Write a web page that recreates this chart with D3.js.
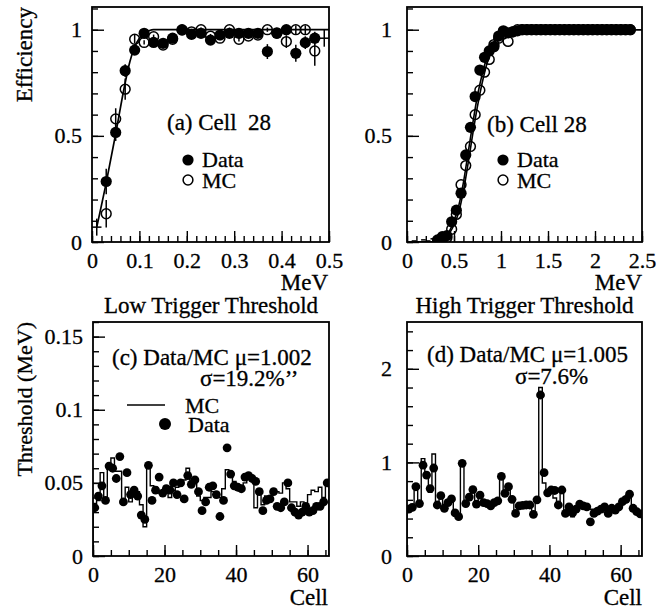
<!DOCTYPE html>
<html>
<head>
<meta charset="utf-8">
<script src="https://cdn.jsdelivr.net/npm/d3@7"></script>
<style>
  body { margin: 0; background: #fff; }
  svg { display: block; }
  text { font-family: "Liberation Serif", "Times New Roman", serif; fill: #000; stroke: #000; stroke-width: 0.3px; }
</style>
</head>
<body>
<svg id="chart" width="670" height="609"></svg>
<script>
// ---- panel (a): low threshold efficiency, cell 28
const aX = [0.03,0.05,0.07,0.09,0.11,0.13,0.15,0.17,0.19,0.21,0.23,0.25,0.27,0.29,0.31,0.33,0.35,0.37,0.39,0.41,0.43,0.45,0.47]
const aData = [0.285,0.516,0.807,0.904,0.983,0.94,0.936,0.96,0.998,0.978,0.983,0.951,0.975,0.983,0.983,0.983,0.983,0.897,0.983,1.0,0.889,0.939,0.96]
const aDataErr = [0.06,0.04,0.03,0.02,0.01,0.01,0.01,0.01,0.01,0.01,0.01,0.01,0.01,0.01,0.01,0.01,0.01,0.035,0.01,0.015,0.04,0.03,0.03]
const aMC = [0.133,0.58,0.72,0.955,0.94,0.967,0.928,0.955,1.0,0.99,1.0,0.97,0.96,1.0,0.955,0.97,0.975,1.0,0.985,0.944,1.0,1.0,0.90]
const aMCErr = [0.065,0.05,0.05,0.02,0.01,0.01,0.01,0.01,0.01,0.01,0.01,0.01,0.01,0.01,0.01,0.01,0.01,0.01,0.01,0.03,0.02,0.02,0.07]
const aCrossX = [0.01, 0.49]
const aCrossY = [0.07, 0.96]
const aFitX = [0.01,0.03,0.05,0.07,0.08,0.09,0.10,0.11,0.12,0.13,0.5]
const aFitY = [0.07,0.28,0.51,0.75,0.85,0.92,0.96,0.985,0.995,1.0,1.0]

// ---- panel (b): high threshold efficiency, cell 28
const bX = [0.325,0.375,0.425,0.475,0.525,0.575,0.625,0.675,0.725,0.775,0.825,0.875,0.925,0.975,1.025,1.075,1.125,
  1.175,1.225,1.275,1.325,1.375,1.425,1.475,1.525,1.575,1.625,1.675,1.725,1.775,1.825,1.875,1.925,1.975,2.025,2.075,2.125,2.175,2.225,2.275,2.325,2.375]
const bData = [0.01,0.025,0.03,0.095,0.15,0.23,0.41,0.54,0.685,0.81,0.87,0.90,0.92,0.97,0.995,0.985,0.99,
  0.995,1,1,1,1,1,1,1,1,1,1,1,1,1,1,1,1,1,1,1,1,1,1,1,1]
const bMC = [0.0,0.01,0.02,0.06,0.13,0.27,0.36,0.45,0.60,0.715,0.80,0.86,0.93,0.96,0.98,0.945,0.99,
  1,1,1,1,1,1,1,1,1,1,1,1,1,1,1,1,1,1,1,1,1,1,1,1,1]
const bLowX = [0.075,0.125,0.175,0.225,0.275]
const bLowY = [0.005,0.0,0.01,0.005,0.015]
const bFitX = [0,0.3,0.4,0.45,0.5,0.55,0.6,0.65,0.7,0.75,0.8,0.85,0.9,0.95,1.0,1.05,1.1,2.5]
const bFitData = [0,0,0.02,0.05,0.10,0.17,0.28,0.42,0.56,0.69,0.79,0.87,0.92,0.96,0.985,0.995,1.0,1.0]
const bFitMC = [0,0,0.01,0.04,0.08,0.14,0.24,0.37,0.51,0.64,0.75,0.84,0.90,0.95,0.98,0.99,1.0,1.0]

// ---- panel (c): low trigger threshold per cell (MeV), cells 0..65
const cData = [0.033,0.041,0.048,0.038,0.0615,0.060,0.053,0.068,0.037,0.057,0.042,0.045,0.041,0.028,0.025,0.062,
  0.038,0.045,0.054,0.043,0.046,0.045,0.050,0.042,0.050,0.039,0.055,0.049,0.052,0.044,0.031,0.037,0.047,0.048,
  0.042,0.027,0.038,0.074,0.056,0.048,0.047,0.046,0.054,0.055,0.053,0.051,0.044,0.031,0.038,0.039,0.044,0.034,
  0.033,0.037,0.050,0.033,0.030,0.028,0.030,0.034,0.030,0.031,0.034,0.034,0.037,0.050]
const cMC = [0.036,0.038,0.057,0.040,0.062,0.067,0.058,0.058,0.036,0.047,0.037,0.044,0.044,0.035,0.020,0.060,
  0.048,0.047,0.043,0.042,0.048,0.040,0.045,0.047,0.048,0.052,0.060,0.052,0.050,0.041,0.038,0.040,0.040,0.044,
  0.040,0.040,0.046,0.059,0.057,0.051,0.047,0.045,0.050,0.055,0.053,0.033,0.046,0.035,0.041,0.037,0.046,0.044,
  0.043,0.050,0.046,0.037,0.037,0.034,0.037,0.033,0.042,0.045,0.044,0.047,0.040,0.050]

// ---- panel (d): high trigger threshold per cell (MeV)
const dData = [0.50,0.52,0.74,0.56,0.97,0.865,0.72,0.94,0.545,0.645,0.51,0.57,0.61,0.46,0.42,0.99,
  0.56,0.63,0.71,0.555,0.65,0.57,0.56,0.535,0.57,0.59,0.85,0.67,0.74,0.605,0.455,0.535,0.54,0.545,
  0.545,0.445,0.60,1.72,0.89,0.675,0.705,0.70,0.545,0.705,0.455,0.525,0.46,0.50,0.555,0.535,0.525,0.365,
  0.455,0.48,0.50,0.525,0.455,0.51,0.49,0.525,0.58,0.605,0.66,0.51,0.475,0.45]
const dMC = [0.52,0.55,0.76,0.58,1.04,0.85,0.68,1.09,0.52,0.62,0.55,0.60,0.62,0.47,0.43,1.00,
  0.57,0.62,0.68,0.58,0.62,0.57,0.56,0.55,0.58,0.60,0.86,0.70,0.72,0.60,0.48,0.53,0.54,0.55,
  0.55,0.47,0.62,1.80,0.78,0.68,0.70,0.62,0.56,0.70,0.47,0.52,0.42,0.50,0.55,0.55,0.53,0.50,
  0.50,0.49,0.49,0.51,0.50,0.50,0.51,0.52,0.56,0.60,0.62,0.53,0.49,0.45]

// tick labels
const effMajor = [0, 0.5, 1]
const aXMajor = [0, 0.1, 0.2, 0.3, 0.4, 0.5]
const bXMajor = [0, 0.5, 1, 1.5, 2, 2.5]
const cellMajor = [0, 20, 40, 60]
const cYMajor = [0, 0.05, 0.1, 0.15]
const dYMajor = [0, 1, 2]

const svg = d3.select("#chart")
const fmt = d => String(d)

const P = {
  a: { x0: 92, x1: 329, y0: 7, y1: 242, pad: 10 },
  b: { x0: 407, x1: 642, y0: 7, y1: 242, pad: 15 },
  c: { x0: 93, x1: 329, y0: 322, y1: 556, pad: 10 },
  d: { x0: 407, x1: 642, y0: 322, y1: 556, pad: 15 }
}

function frame(name, x, y, xMajor, xMinor, yMajor, yMinor) {
  const p = P[name]
  const g = svg.append("g")
  const clipId = "clip-" + name
  svg.append("clipPath").attr("id", clipId)
    .append("rect").attr("x", p.x0).attr("y", p.y0).attr("width", p.x1 - p.x0).attr("height", p.y1 - p.y0)

  const axes = [
    [d3.axisBottom(x).tickValues(xMinor).tickSize(-6).tickFormat(""), `translate(0,${p.y1})`],
    [d3.axisBottom(x).tickValues(xMajor).tickSize(-11).tickPadding(10).tickFormat(fmt), `translate(0,${p.y1})`],
    [d3.axisLeft(y).tickValues(yMinor).tickSize(-6).tickFormat(""), `translate(${p.x0},0)`],
    [d3.axisLeft(y).tickValues(yMajor).tickSize(-12).tickPadding(p.pad).tickFormat(fmt), `translate(${p.x0},0)`]
  ]
  axes.forEach(([ax, tr]) => {
    const a = g.append("g").attr("transform", tr).call(ax)
    a.select(".domain").remove()
    a.selectAll("line").attr("stroke", "#000").attr("stroke-width", 1.4)
    a.selectAll("text").attr("font-size", 22)
  })

  g.append("rect")
    .attr("x", p.x0).attr("y", p.y0)
    .attr("width", p.x1 - p.x0).attr("height", p.y1 - p.y0)
    .attr("fill", "none").attr("stroke", "#000").attr("stroke-width", 1.8)

  const plot = svg.append("g").attr("clip-path", `url(#${clipId})`)
  return plot
}

function text(str, x, y, size, anchor) {
  return svg.append("text")
    .attr("x", x).attr("y", y)
    .attr("font-size", size)
    .attr("text-anchor", anchor || "start")
    .style("white-space", "pre")
    .text(str)
}

function yTitle(str, x, yTop, size) {
  svg.append("text")
    .attr("transform", `translate(${x},${yTop}) rotate(-90)`)
    .attr("text-anchor", "end")
    .attr("font-size", size)
    .text(str)
}

function points(plot, x, y, xs, ys, errs, filled, r) {
  if (errs) {
    plot.selectAll(null).data(xs).enter().append("line")
      .attr("x1", (d) => x(d)).attr("x2", (d) => x(d))
      .attr("y1", (d, i) => y(ys[i] - errs[i])).attr("y2", (d, i) => y(ys[i] + errs[i]))
      .attr("stroke", "#000").attr("stroke-width", 1.5)
  }
  plot.selectAll(null).data(xs).enter().append("circle")
    .attr("cx", (d) => x(d)).attr("cy", (d, i) => y(ys[i]))
    .attr("r", filled ? r : r - 0.7)
    .attr("fill", filled ? "#000" : "none")
    .attr("stroke", "#000").attr("stroke-width", filled ? 0 : 1.5)
}

// ================= (a)
{
  const p = P.a
  const x = d3.scaleLinear().domain([0, 0.5]).range([p.x0, p.x1])
  const y = d3.scaleLinear().domain([0, 1.107]).range([p.y1, p.y0])
  const plot = frame("a", x, y, aXMajor, d3.range(0, 0.5001, 0.02), effMajor, d3.range(0, 1.1001, 0.1))

  plot.append("path")
    .datum(aFitX.map((d, i) => [d, aFitY[i]]))
    .attr("fill", "none").attr("stroke", "#000").attr("stroke-width", 1.7)
    .attr("d", d3.line().x(d => x(d[0])).y(d => y(d[1])).curve(d3.curveMonotoneX))

  aCrossX.forEach((cx, i) => {
    plot.append("line").attr("x1", x(cx - 0.01)).attr("x2", x(cx + 0.01))
      .attr("y1", y(aCrossY[i])).attr("y2", y(aCrossY[i])).attr("stroke", "#000").attr("stroke-width", 1.5)
    plot.append("line").attr("x1", x(cx)).attr("x2", x(cx))
      .attr("y1", y(aCrossY[i] - 0.04)).attr("y2", y(aCrossY[i] + 0.04)).attr("stroke", "#000").attr("stroke-width", 1.5)
  })

  points(plot, x, y, aX, aData, aDataErr, true, 5.6)
  points(plot, x, y, aX, aMC, aMCErr, false, 5.6)

  yTitle("Efficiency", 32, p.y0, 23)
  text("MeV", p.x1 - 1, 290, 23, "end")
  text("(a) Cell  28", 167, 130, 23)
  svg.append("circle").attr("cx", 188).attr("cy", 160).attr("r", 5.6).attr("fill", "#000")
  text("Data", 202, 167, 22)
  svg.append("circle").attr("cx", 188).attr("cy", 180).attr("r", 4.9).attr("fill", "none").attr("stroke", "#000").attr("stroke-width", 1.5)
  text("MC", 202, 188, 22)
}

// ================= (b)
{
  const p = P.b
  const x = d3.scaleLinear().domain([0, 2.5]).range([p.x0, p.x1])
  const y = d3.scaleLinear().domain([0, 1.107]).range([p.y1, p.y0])
  const plot = frame("b", x, y, bXMajor, d3.range(0, 2.5001, 0.1), effMajor, d3.range(0, 1.1001, 0.1))

  const line = d3.line().x(d => x(d[0])).y(d => y(d[1])).curve(d3.curveMonotoneX)
  plot.append("path").datum(bFitX.map((d, i) => [d, bFitData[i]]))
    .attr("fill", "none").attr("stroke", "#000").attr("stroke-width", 1.6).attr("d", line)
  plot.append("path").datum(bFitX.map((d, i) => [d, bFitMC[i]]))
    .attr("fill", "none").attr("stroke", "#000").attr("stroke-width", 1.6).attr("d", line)

  bLowX.forEach((lx, i) => {
    plot.append("line").attr("x1", x(lx - 0.025)).attr("x2", x(lx + 0.025))
      .attr("y1", y(bLowY[i])).attr("y2", y(bLowY[i])).attr("stroke", "#000").attr("stroke-width", 1.5)
  })

  points(plot, x, y, bX, bData, null, true, 5.6)
  points(plot, x, y, bX, bMC, null, false, 5.6)

  text("MeV", p.x1, 290, 23, "end")
  text("(b) Cell 28", 487, 132, 23)
  svg.append("circle").attr("cx", 503).attr("cy", 160).attr("r", 5.6).attr("fill", "#000")
  text("Data", 517, 167, 22)
  svg.append("circle").attr("cx", 503).attr("cy", 180).attr("r", 4.9).attr("fill", "none").attr("stroke", "#000").attr("stroke-width", 1.5)
  text("MC", 517, 188, 22)
}

function histPath(vals) {
  const pts = [[0, 0]]
  vals.forEach((v, i) => pts.push([i, v]))
  pts.push([vals.length, vals[vals.length - 1]])
  pts.push([vals.length, 0])
  return pts
}

// ================= (c)
{
  const p = P.c
  const x = d3.scaleLinear().domain([0, 66]).range([p.x0, p.x1])
  const y = d3.scaleLinear().domain([0, 0.16]).range([p.y1, p.y0])
  const plot = frame("c", x, y, cellMajor, d3.range(0, 66, 5), cYMajor, d3.range(0, 0.1601, 0.01))

  plot.append("path").datum(histPath(cMC))
    .attr("fill", "none").attr("stroke", "#000").attr("stroke-width", 1.4)
    .attr("d", d3.line().x(d => x(d[0])).y(d => y(d[1])).curve(d3.curveStepAfter))

  plot.selectAll(null).data(cData).enter().append("circle")
    .attr("cx", (d, i) => x(i + 0.5)).attr("cy", d => y(d)).attr("r", 4.4).attr("fill", "#000")

  yTitle("Threshold (MeV)", 32, p.y0, 22)
  text("Cell", p.x1 - 1, 605, 23, "end")
  text("Low Trigger Threshold", (p.x0 + p.x1) / 2, 313, 23, "middle")
  text("(c) Data/MC \u03bc=1.002", 112, 365, 23)
  text("\u03c3=19.2%\u2019\u2019", 200, 386, 23)
  svg.append("line").attr("x1", 127).attr("x2", 165).attr("y1", 405).attr("y2", 405).attr("stroke", "#000").attr("stroke-width", 1.6)
  text("MC", 185, 413, 22)
  svg.append("circle").attr("cx", 165).attr("cy", 424).attr("r", 6).attr("fill", "#000")
  text("Data", 188, 432, 22)
}

// ================= (d)
{
  const p = P.d
  const x = d3.scaleLinear().domain([0, 66]).range([p.x0, p.x1])
  const y = d3.scaleLinear().domain([0, 2.5]).range([p.y1, p.y0])
  const plot = frame("d", x, y, cellMajor, d3.range(0, 66, 5), dYMajor, d3.range(0, 2.5001, 0.2))

  plot.append("path").datum(histPath(dMC))
    .attr("fill", "none").attr("stroke", "#000").attr("stroke-width", 1.4)
    .attr("d", d3.line().x(d => x(d[0])).y(d => y(d[1])).curve(d3.curveStepAfter))

  plot.selectAll(null).data(dData).enter().append("circle")
    .attr("cx", (d, i) => x(i + 0.5)).attr("cy", d => y(d)).attr("r", 4.4).attr("fill", "#000")

  text("Cell", p.x1, 605, 23, "end")
  text("High Trigger Threshold", (p.x0 + p.x1) / 2, 313, 23, "middle")
  text("(d) Data/MC \u03bc=1.005", 427, 362, 23)
  text("\u03c3=7.6%", 515, 384, 23)
}
</script>
</body>
</html>
